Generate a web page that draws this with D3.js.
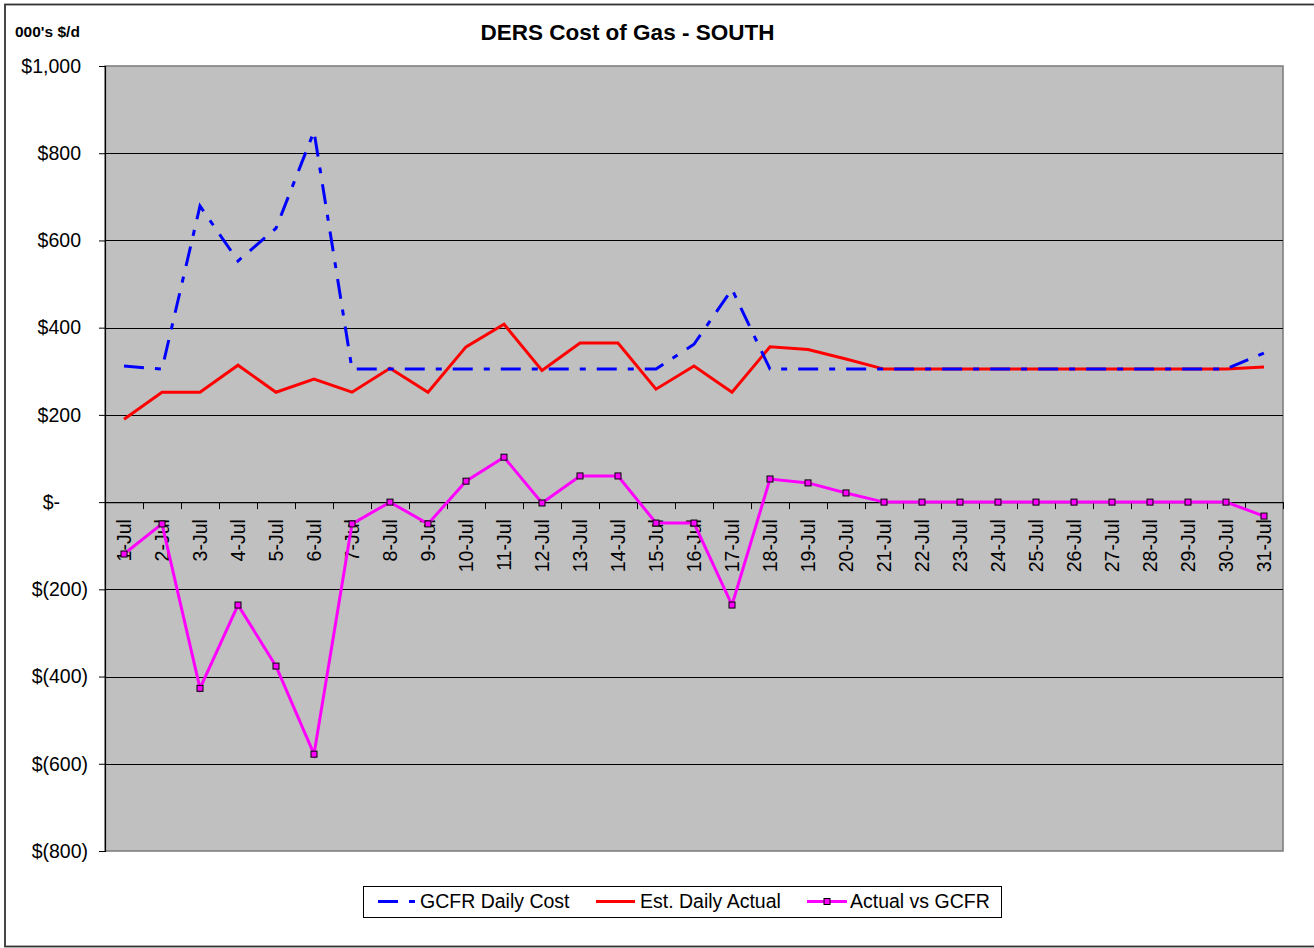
<!DOCTYPE html>
<html>
<head>
<meta charset="utf-8">
<script src="https://cdn.jsdelivr.net/npm/d3@7"></script>
<style>
  html, body { margin: 0; padding: 0; background: #fff; }
  svg { display: block; font-family: "Liberation Sans", Arial, sans-serif; }
</style>
</head>
<body>
<svg id="chart" width="1314" height="948"></svg>
<script>
// ---- Data ----
const categories = ["1-Jul","2-Jul","3-Jul","4-Jul","5-Jul","6-Jul","7-Jul","8-Jul","9-Jul","10-Jul",
  "11-Jul","12-Jul","13-Jul","14-Jul","15-Jul","16-Jul","17-Jul","18-Jul","19-Jul","20-Jul",
  "21-Jul","22-Jul","23-Jul","24-Jul","25-Jul","26-Jul","27-Jul","28-Jul","29-Jul","30-Jul","31-Jul"];

const gcfrDailyCost = [312, 305, 679, 553, 628, 850, 305, 305, 305, 305,
  305, 305, 305, 305, 305, 362, 488, 305, 305, 305,
  305, 305, 305, 305, 305, 305, 305, 305, 305, 305, 342];

const estDailyActual = [190, 252, 252, 314, 252, 282, 252, 307, 252, 356,
  408, 302, 365, 365, 259, 312, 252, 356, 350, 328,
  305, 305, 305, 305, 305, 305, 305, 305, 305, 305, 310];

const actualVsGcfr = [-119, -50, -427, -236, -376, -578, -50, 0, -50, 48,
  103, -2, 60, 60, -48, -48, -236, 53, 44, 21,
  0, 0, 0, 0, 0, 0, 0, 0, 0, 0, -32];

const yTicks = [1000, 800, 600, 400, 200, 0, -200, -400, -600, -800];
const yTickLabels = ["$1,000", "$800", "$600", "$400", "$200", "$-", "$(200)", "$(400)", "$(600)", "$(800)"];

const seriesNames = ["GCFR Daily Cost", "Est. Daily Actual", "Actual vs GCFR"];
const titleText = "DERS Cost of Gas - SOUTH";
const unitText = "000's $/d";

// ---- Layout ----
const svg = d3.select("#chart");
const plot = { left: 105, right: 1283, top: 66, bottom: 851 };

const x = d3.scaleBand().domain(categories).range([plot.left, plot.right]);
const y = d3.scaleLinear().domain([-800, 1000]).range([plot.bottom, plot.top]);
const cx = c => x(c) + x.bandwidth() / 2;

// Outer border
svg.append("rect")
  .attr("x", 5).attr("y", 4.5).attr("width", 1312).attr("height", 942)
  .attr("fill", "none").attr("stroke", "#333").attr("stroke-width", 1.8);

// Plot background
svg.append("rect")
  .attr("x", plot.left).attr("y", plot.top)
  .attr("width", plot.right - plot.left).attr("height", plot.bottom - plot.top)
  .attr("fill", "#c0c0c0").attr("stroke", "#7a7a7a").attr("stroke-width", 1.5);

// Gridlines
svg.append("g").selectAll("line")
  .data(yTicks.filter(v => v !== 1000 && v !== -800 && v !== 0))
  .join("line")
  .attr("x1", plot.left).attr("x2", plot.right)
  .attr("y1", d => Math.round(y(d)) + 0.5).attr("y2", d => Math.round(y(d)) + 0.5)
  .attr("stroke", "#000").attr("stroke-width", 1);

// Y axis
const yAxis = d3.axisLeft(y)
  .tickValues(yTicks)
  .tickSize(6)
  .tickPadding(18)
  .tickFormat((d, i) => yTickLabels[i]);
const gy = svg.append("g").attr("transform", `translate(${plot.left},0)`).call(yAxis);
gy.select(".domain").attr("stroke", "#000").attr("stroke-width", 1.2);
gy.selectAll(".tick line").attr("stroke", "#000");
gy.selectAll(".tick text")
  .attr("font-size", 19.5).attr("fill", "#000")
  .attr("font-family", "Liberation Sans, Arial, sans-serif")
  .attr("dx", d => d < 0 ? 7 : (d === 0 ? -21 : 0));

// X axis line at zero
svg.append("line")
  .attr("x1", plot.left).attr("x2", plot.right)
  .attr("y1", y(0) + 0.5).attr("y2", y(0) + 0.5)
  .attr("stroke", "#000").attr("stroke-width", 1.2);

// X ticks at category boundaries
const boundaries = categories.map(c => x(c)).concat([x(categories[categories.length - 1]) + x.bandwidth()]);
svg.append("g").selectAll("line").data(boundaries).join("line")
  .attr("x1", d => Math.round(d) + 0.5).attr("x2", d => Math.round(d) + 0.5)
  .attr("y1", y(0)).attr("y2", y(0) + 7)
  .attr("stroke", "#000").attr("stroke-width", 1);

// X labels
svg.append("g").selectAll("text").data(categories).join("text")
  .attr("transform", d => `translate(${cx(d)},${y(0) + 17}) rotate(-90)`)
  .attr("text-anchor", "end")
  .attr("dy", "0.35em")
  .attr("font-size", 19.5)
  .attr("fill", "#000")
  .text(d => d);

// Lines
const lineGen = vals => d3.line()
  .x((d, i) => cx(categories[i]))
  .y(d => y(d))(vals);

svg.append("path")
  .attr("d", lineGen(estDailyActual))
  .attr("fill", "none").attr("stroke", "#ff0000").attr("stroke-width", 3)
  .attr("stroke-linejoin", "miter");

svg.append("path")
  .attr("d", lineGen(gcfrDailyCost))
  .attr("fill", "none").attr("stroke", "#0000ff").attr("stroke-width", 3)
  .attr("stroke-dasharray", "20,11,6,11");

svg.append("path")
  .attr("d", lineGen(actualVsGcfr))
  .attr("fill", "none").attr("stroke", "#ff00ff").attr("stroke-width", 3);

svg.append("g").selectAll("rect").data(actualVsGcfr).join("rect")
  .attr("x", (d, i) => cx(categories[i]) - 3)
  .attr("y", d => y(d) - 3)
  .attr("width", 6).attr("height", 6)
  .attr("fill", "#ff00ff").attr("stroke", "#000").attr("stroke-width", 1);

// Title
svg.append("text")
  .attr("x", 627.5).attr("y", 40)
  .attr("text-anchor", "middle")
  .attr("font-size", 22.5).attr("font-weight", "bold")
  .text(titleText);

svg.append("text")
  .attr("x", 15).attr("y", 37)
  .attr("font-size", 15.5).attr("font-weight", "bold")
  .text(unitText);

// Legend
const lg = svg.append("g");
lg.append("rect")
  .attr("x", 363.5).attr("y", 886.5).attr("width", 638).attr("height", 31)
  .attr("fill", "#fff").attr("stroke", "#000").attr("stroke-width", 1);

const legendItems = [
  { name: seriesNames[0], x0: 378, x1: 415, tx: 420, color: "#0000ff", dash: "20,11,6,11", marker: false },
  { name: seriesNames[1], x0: 596, x1: 635, tx: 640, color: "#ff0000", dash: null, marker: false },
  { name: seriesNames[2], x0: 807, x1: 847, tx: 850, color: "#ff00ff", dash: null, marker: true }
];
const ly = 901.5;
legendItems.forEach(it => {
  lg.append("line")
    .attr("x1", it.x0).attr("x2", it.x1).attr("y1", ly).attr("y2", ly)
    .attr("stroke", it.color).attr("stroke-width", 3)
    .attr("stroke-dasharray", it.dash);
  if (it.marker) {
    lg.append("rect")
      .attr("x", (it.x0 + it.x1) / 2 - 3).attr("y", ly - 3)
      .attr("width", 6).attr("height", 6)
      .attr("fill", "#ff00ff").attr("stroke", "#000").attr("stroke-width", 1);
  }
  lg.append("text")
    .attr("x", it.tx).attr("y", 908)
    .attr("font-size", 19.5)
    .text(it.name);
});
</script>
</body>
</html>
